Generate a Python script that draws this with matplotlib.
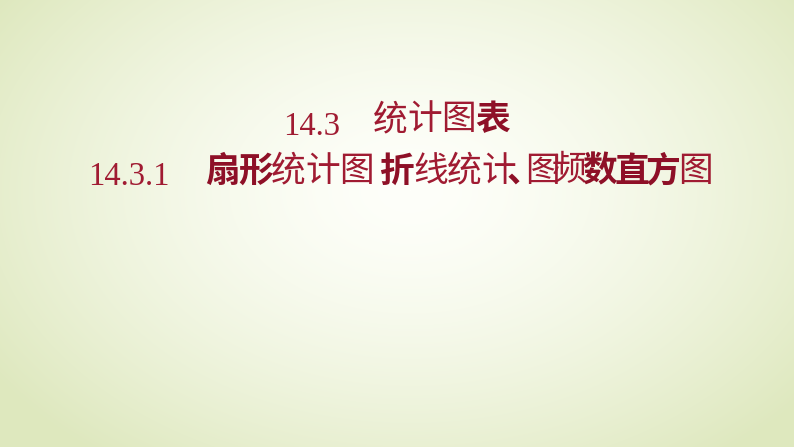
import numpy as np
import matplotlib
matplotlib.use('Agg')
import matplotlib.pyplot as plt

# title texts
line1_num = '14.3'
line1_chars = ['统', '计', '图', '表']
line1_bold = [0, 0, 0, 1]

line2_num = '14.3.1'
line2_chars = ['扇', '形', '统', '计', '图', '折', '线', '统', '计', '、', '图', '频', '数', '直', '方', '图']
line2_bold = [1, 1, 0, 0, 0, 1, 0, 0, 0, 1, 0, 0, 1, 1, 1, 0]

# layout (pixels)
W, H = 794, 447
line1_x = [373, 407, 441, 475]
line2_x = [205, 238, 271, 305, 339, 379, 413, 447, 481, 507, 525, 552, 582, 614, 646, 678]

red = '#a01b32'
red_bold = '#8e1027'

fig = plt.figure(figsize=(W / 100, H / 100), dpi=100)
ax = fig.add_axes([0, 0, 1, 1])
ax.set_xlim(0, W)
ax.set_ylim(H, 0)
ax.axis('off')

# background: radial gradient white centre -> pale green edge
yy, xx = np.mgrid[0:H, 0:W]
r = np.sqrt(((xx - 410) / 500.0) ** 2 + ((yy - 190) / 340.0) ** 2)
r = np.clip(r, 0, 1)
c_in = np.array([254, 255, 250]) / 255.0
c_out = np.array([222, 232, 190]) / 255.0
t = r[..., None] ** 1.5
img = c_in * (1 - t) + c_out * t
ax.imshow(img, extent=[0, W, H, 0], zorder=0)

cjk = ['Noto Sans CJK SC', 'DejaVu Sans']
fs = 25

ax.text(283, 135, line1_num, family='Liberation Serif', fontsize=23.5, color=red,
        ha='left', va='baseline')
for ch, x, b in zip(line1_chars, line1_x, line1_bold):
    ax.text(x, 120, ch, family=cjk, fontsize=fs, color=red_bold if b else red,
            weight='bold' if b else 'light', ha='left', va='center')

ax.text(88, 185, line2_num, family='Liberation Serif', fontsize=23.5, color=red,
        ha='left', va='baseline')
for ch, x, b in zip(line2_chars, line2_x, line2_bold):
    ax.text(x, 171, ch, family=cjk, fontsize=fs, color=red_bold if b else red,
            weight='bold' if b else 'light', ha='left', va='center')

fig.savefig('out.png', dpi=100)
